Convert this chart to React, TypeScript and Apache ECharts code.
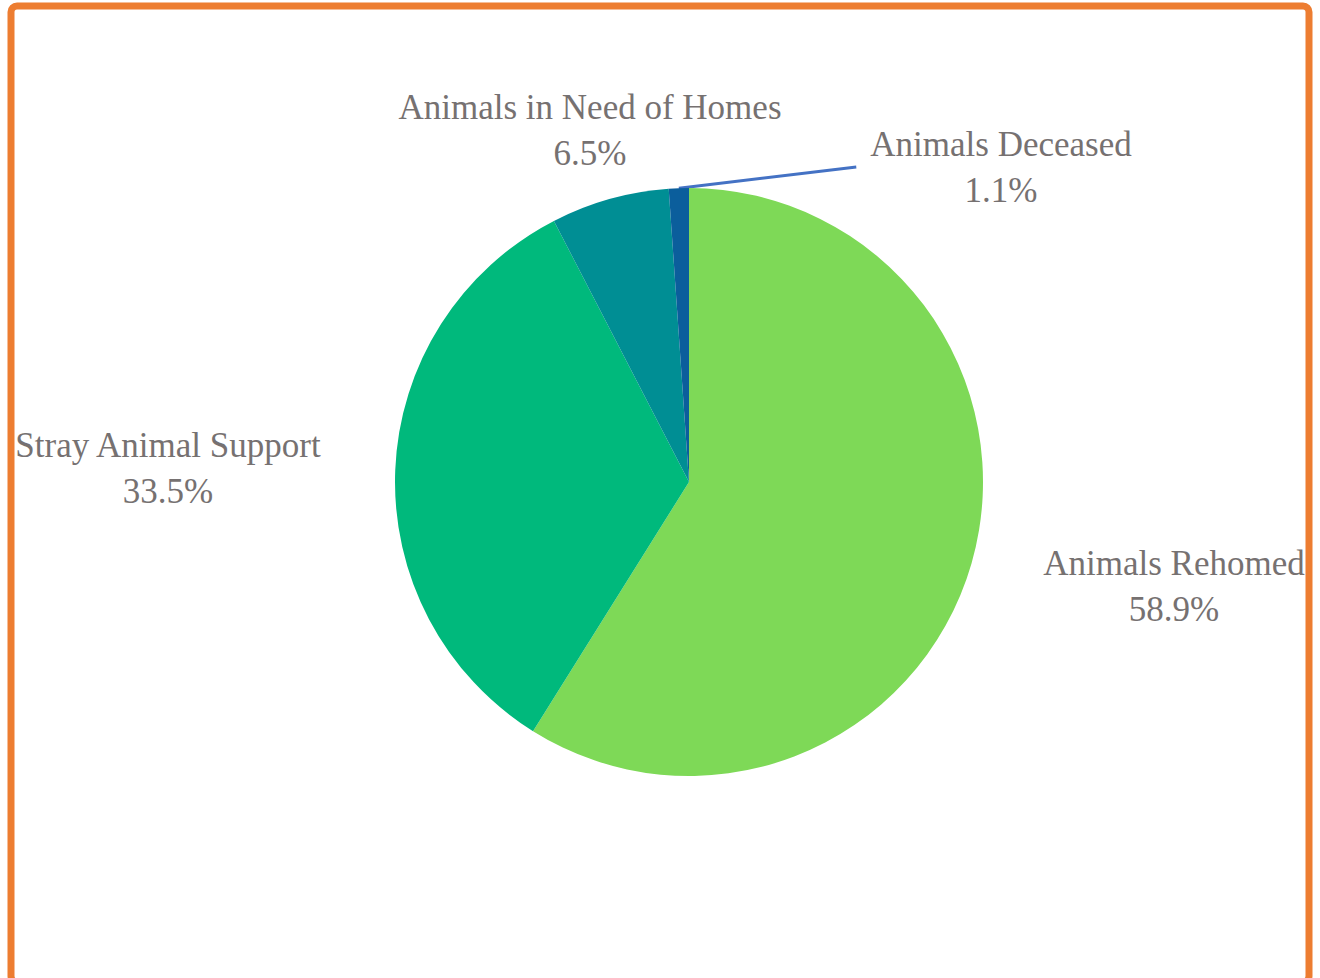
import React, { useEffect, useRef } from "react";
import * as echarts from "echarts";

const categories = [
  "Animals Rehomed",
  "Stray Animal Support",
  "Animals in Need of Homes",
  "Animals Deceased",
];
const values = [58.9, 33.5, 6.5, 1.1];
const colors = ["#7ED957", "#00B97C", "#008E94", "#0B5E9C"];
const showLeader = [false, false, false, true];

// label block centres (layout only)
const labelPos: number[][] = [
  [1174, 586],
  [168, 468],
  [590, 130],
  [1001, 167],
];
const labelPadding: number[][] = [
  [0, 0, 0, 0],
  [0, 0, 0, 0],
  [0, 0, 0, 0],
  [46, 14, 0, 14],
];

export default function App() {
  const ref = useRef<HTMLDivElement>(null);
  useEffect(() => {
    if (!ref.current) return;
    const chart = echarts.init(ref.current, undefined, { renderer: "svg" });
    chart.setOption({
      animation: false,
      backgroundColor: "#ffffff",
      graphic: [
        {
          type: "rect",
          shape: { x: 11, y: 6, width: 1298, height: 976, r: 6 },
          style: { fill: "none", stroke: "#ED7D31", lineWidth: 7 },
          z: 10,
        },
      ],
      series: [
        {
          type: "pie",
          center: [689, 482],
          radius: 294,
          startAngle: 90,
          clockwise: true,
          avoidLabelOverlap: false,
          itemStyle: { borderWidth: 0 },
          label: {
            show: true,
            position: "outside",
            color: "#767171",
            fontFamily: "Liberation Serif",
            fontSize: 35,
            lineHeight: 46,
            align: "center",
            formatter: (p: any) => `${p.name}\n${p.value.toFixed(1)}%`,
          },
          labelLayout: (p: any) => {
            const pos = labelPos[p.dataIndex];
            return { x: pos[0], y: pos[1], align: "center", verticalAlign: "middle" };
          },
          emphasis: { disabled: true },
          data: categories.map((name, i) => ({
            name,
            value: values[i],
            itemStyle: { color: colors[i] },
            label: { padding: labelPadding[i] },
            labelLine: {
              show: showLeader[i],
              length: 1,
              length2: 0,
              lineStyle: { color: "#4472C4", width: 3 },
            },
          })),
        },
      ],
    });
    return () => chart.dispose();
  }, []);
  return (
    <div
      ref={ref}
      style={{ position: "absolute", left: 0, top: 0, width: 1320, height: 978 }}
    />
  );
}
